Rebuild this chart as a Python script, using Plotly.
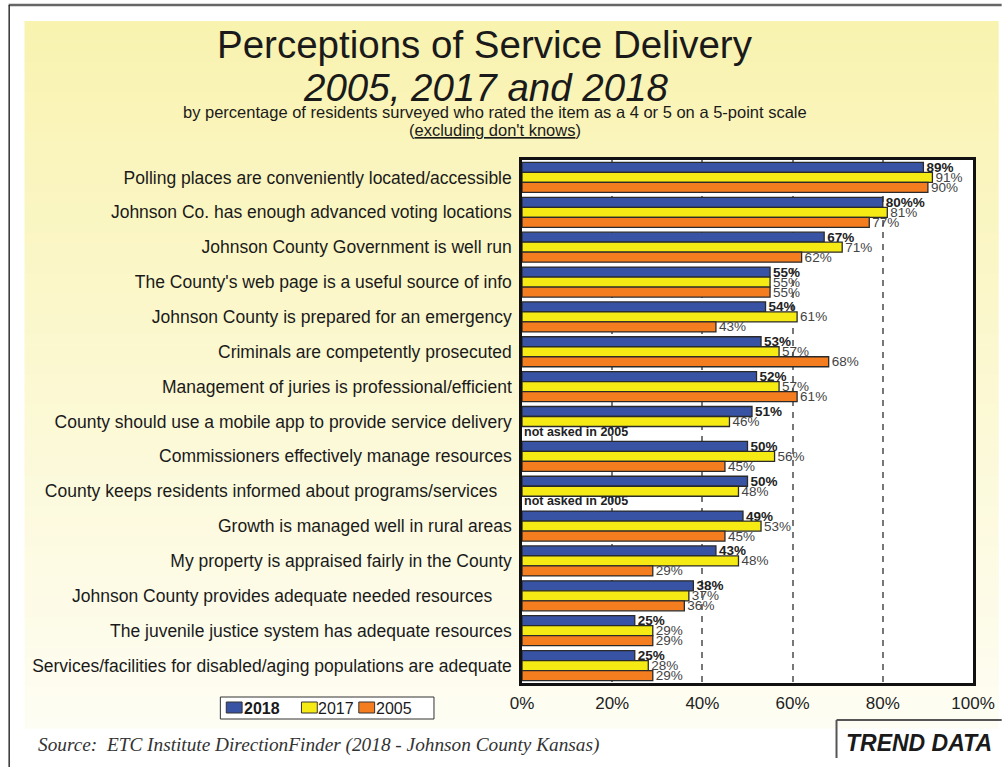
import plotly.graph_objects as go

# Survey items (top to bottom) and the share rating each a 4 or 5
items = [
    "Polling places are conveniently located/accessible",
    "Johnson Co. has enough advanced voting locations",
    "Johnson County Government is well run",
    "The County's web page is a useful source of info",
    "Johnson County is prepared for an emergency",
    "Criminals are competently prosecuted",
    "Management of juries is professional/efficient",
    "County should use a mobile app to provide service delivery",
    "Commissioners effectively manage resources",
    "County keeps residents informed about programs/services\u00a0\u00a0\u00a0",
    "Growth is managed well in rural areas",
    "My property is appraised fairly in the County",
    "Johnson County provides adequate needed resources\u00a0\u00a0\u00a0\u00a0",
    "The juvenile justice system has adequate resources",
    "Services/facilities for disabled/aging populations are adequate",
]
y2018 = [89, 80, 67, 55, 54, 53, 52, 51, 50, 50, 49, 43, 38, 25, 25]
y2017 = [91, 81, 71, 55, 61, 57, 57, 46, 56, 48, 53, 48, 37, 29, 28]
y2005 = [90, 77, 62, 55, 43, 68, 61, None, 45, None, 45, 29, 36, 29, 29]
x_ticks = [0, 20, 40, 60, 80, 100]
legend_labels = ["<b>2018</b>", "2017", "2005"]
colors = ["#3953a4", "#f5ea14", "#f47d20"]

W, H = 1007, 767
L, R, T, B = 522, 978, 160, 683  # plot area in pixels


def px(x):
    return (x - L) / (R - L)


def py(y):
    return (B - y) / (B - T)


label_fonts = [
    dict(size=13.5, color="#222222", family="Liberation Sans"),
    dict(size=13.5, color="#444444", family="Liberation Sans"),
    dict(size=13.5, color="#444444", family="Liberation Sans"),
]
templates = ["<b>%{x}%</b>", "%{x}%", "%{x}%"]

fig = go.Figure()
for name, vals, color, tfont, tmpl in zip(legend_labels, [y2018, y2017, y2005], colors,
                                          label_fonts, templates):
    fig.add_trace(go.Bar(
        name=name, y=items, x=vals, orientation="h",
        marker=dict(color=color, line=dict(color="#2a2a2a", width=1.3)),
        texttemplate=tmpl, textposition="outside", textfont=tfont,
        constraintext="none", cliponaxis=False, showlegend=False,
    ))

# Items that were not part of the 2005 survey
for i, v in enumerate(y2005):
    if v is None:
        fig.add_annotation(x=0, y=items[i], xref="x", yref="y", text="<b>not asked in 2005</b>",
                           showarrow=False, xanchor="left", yanchor="middle", xshift=0, yshift=-10,
                           font=dict(size=12.5, color="#222222", family="Liberation Sans"))

shapes = []
# Page frame
shapes.append(dict(type="line", xref="paper", yref="paper", x0=px(3), x1=px(W), y0=py(5), y1=py(5),
                   line=dict(color="#666666", width=2.5)))
shapes.append(dict(type="line", xref="paper", yref="paper", x0=px(3.5), x1=px(3.5), y0=py(5), y1=py(H),
                   line=dict(color="#333333", width=1.5)))
# Yellow panel, fading downwards
top_c, bot_c = (249, 243, 176), (254, 253, 243)
n = 70
y_top, y_bot = 21, 728
for k in range(n):
    f = k / (n - 1)
    c = tuple(round(top_c[j] + (bot_c[j] - top_c[j]) * f) for j in range(3))
    ya = y_top + (y_bot - y_top) * k / n
    yb = y_top + (y_bot - y_top) * (k + 1) / n + 0.6
    shapes.append(dict(type="rect", xref="paper", yref="paper", layer="below",
                       x0=px(19), x1=px(1004), y0=py(ya), y1=py(yb),
                       fillcolor="rgb(%d,%d,%d)" % c, line=dict(width=0)))
shapes.append(dict(type="rect", xref="paper", yref="paper", layer="below", x0=0, x1=1, y0=0, y1=1,
                   fillcolor="white", line=dict(width=0)))
# Box around the trend label
shapes.append(dict(type="line", xref="paper", yref="paper", x0=px(840), x1=px(W), y0=py(720), y1=py(720),
                   line=dict(color="#555555", width=2)))
shapes.append(dict(type="line", xref="paper", yref="paper", x0=px(840), x1=px(840), y0=py(720), y1=py(758),
                   line=dict(color="#555555", width=2)))

# Legend: framed box with colour swatches and year labels
shapes.append(dict(type="rect", xref="paper", yref="paper", x0=px(217), x1=px(433), y0=py(697), y1=py(719),
                   fillcolor="white", line=dict(color="#333333", width=1)))
swatch_x = [223, 299, 357]
text_x = [239, 314, 372]
for sx, tx, col, lab in zip(swatch_x, text_x, colors, legend_labels):
    shapes.append(dict(type="rect", xref="paper", yref="paper", x0=px(sx), x1=px(sx + 16),
                       y0=py(702), y1=py(713), fillcolor=col, line=dict(color="#333333", width=1)))
    fig.add_annotation(x=px(tx), y=py(708), xref="paper", yref="paper", text=lab, showarrow=False,
                       xanchor="left", yanchor="middle",
                       font=dict(size=16, family="Liberation Sans", color="#1a1a1a"))

texts = [
    (485, 45, "Perceptions of Service Delivery", dict(size=38.5, family="Liberation Sans", color="#1a1a1a")),
    (486, 88, "<i>2005, 2017 and 2018</i>", dict(size=38.5, family="Liberation Sans", color="#1a1a1a")),
    (495, 112, "by percentage of residents surveyed who rated the item as a 4 or 5 on a 5-point scale",
     dict(size=16.5, family="Liberation Sans", color="#1a1a1a")),
    (495, 130, "(<u>excluding don't knows</u>)", dict(size=16.5, family="Liberation Sans", color="#1a1a1a")),
]
for x, y, t, f in texts:
    fig.add_annotation(x=px(x), y=py(y), xref="paper", yref="paper", text=t, showarrow=False,
                       xanchor="center", yanchor="middle", font=f)

fig.add_annotation(x=px(31), y=py(745), xref="paper", yref="paper", showarrow=False,
                   text="<i>Source:  ETC Institute DirectionFinder (2018 - Johnson County Kansas)</i>",
                   xanchor="left", yanchor="middle",
                   font=dict(size=19.3, family="Liberation Serif", color="#333333"))
fig.add_annotation(x=px(848), y=py(743), xref="paper", yref="paper", showarrow=False,
                   text="<b><i>TREND DATA</i></b>", xanchor="left", yanchor="middle",
                   font=dict(size=23, family="Liberation Sans", color="#1a1a1a"))

fig.update_layout(
    width=W, height=H,
    margin=dict(l=L, r=W - R, t=T, b=H - B, pad=0),
    paper_bgcolor="white", plot_bgcolor="white",
    barmode="group", bargap=0.14, bargroupgap=0,
    shapes=shapes,
    showlegend=False,
    font=dict(family="Liberation Sans"),
)
fig.update_xaxes(range=[0, 100], tickvals=x_ticks, ticktext=[f"{v}%" for v in x_ticks],
                 showgrid=True, gridcolor="#777777", griddash="6px,6px", gridwidth=1.5,
                 showline=True, mirror=True, linecolor="#111111", linewidth=2.5,
                 ticks="", tickfont=dict(size=17, color="#222222"), zeroline=False,
                 ticklabelstandoff=3)
fig.update_yaxes(type="category", autorange="reversed", showgrid=False,
                 showline=True, mirror=True, linecolor="#111111", linewidth=2.5,
                 ticks="", tickfont=dict(size=17.5, color="#1a1a1a"), ticklabelstandoff=4)

fig.write_html("out.html")
